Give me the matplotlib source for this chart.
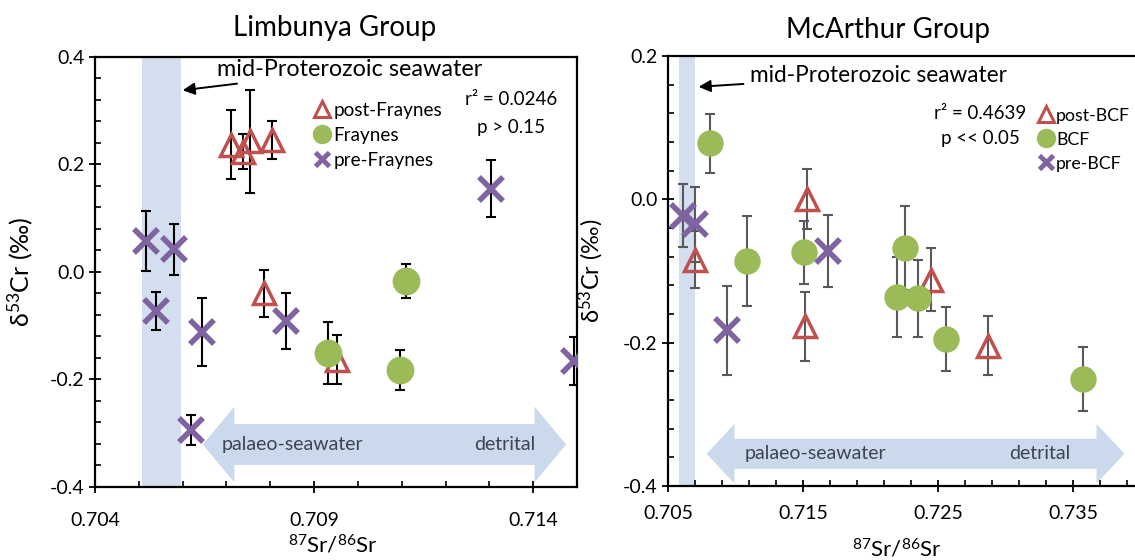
import numpy as np
import matplotlib
matplotlib.use('Agg')
import matplotlib.pyplot as plt
from matplotlib.lines import Line2D
from matplotlib.patches import Polygon
from matplotlib.ticker import FixedLocator, MultipleLocator, FormatStrFormatter

plt.rcParams['font.family'] = ['Lato', 'DejaVu Sans']
plt.rcParams['mathtext.default'] = 'regular'
plt.rcParams['axes.unicode_minus'] = False

# Limbunya Group
lim_post_x = [0.70711, 0.70738, 0.70753, 0.70805, 0.70785, 0.70952]
lim_post_y = [0.237, 0.224, 0.243, 0.246, -0.040, -0.163]
lim_post_err = [0.064, 0.032, 0.096, 0.035, 0.044, 0.045]

lim_fray_x = [0.70932, 0.71110, 0.71096]
lim_fray_y = [-0.151, -0.017, -0.183]
lim_fray_err = [0.058, 0.032, 0.037]

lim_pre_x = [0.70516, 0.70580, 0.70539, 0.70644, 0.70618, 0.70837, 0.71303, 0.71494]
lim_pre_y = [0.058, 0.042, -0.073, -0.112, -0.294, -0.091, 0.155, -0.166]
lim_pre_err = [0.056, 0.048, 0.035, 0.063, 0.028, 0.052, 0.053, 0.045]

# McArthur Group
mca_post_x = [0.70700, 0.71531, 0.71516, 0.72450, 0.72867]
mca_post_y = [-0.084, 0.000, -0.177, -0.112, -0.204]
mca_post_err = [0.040, 0.042, 0.048, 0.044, 0.041]

mca_bcf_x = [0.70813, 0.71083, 0.71510, 0.72253, 0.72195, 0.72349, 0.72555, 0.73573]
mca_bcf_y = [0.078, -0.086, -0.074, -0.068, -0.136, -0.138, -0.195, -0.251]
mca_bcf_err = [0.041, 0.063, 0.044, 0.059, 0.056, 0.054, 0.045, 0.045]

mca_pre_x = [0.70615, 0.70700, 0.70940, 0.71685]
mca_pre_y = [-0.023, -0.035, -0.183, -0.072]
mca_pre_err = [0.044, 0.052, 0.062, 0.050]

lim_xticks = [0.704, 0.709, 0.714]
mca_xticks = [0.705, 0.715, 0.725, 0.735]

RED = '#c0504d'
GREEN = '#9bbb59'
PURPLE = '#8064a2'
BAND = '#d3dfef'
ARROW = '#cbd9ec'


def big_arrow(ax, x0, x1, yc, body, head, hlen):
    # double headed block arrow in data coordinates
    pts = [(x0, yc), (x0 + hlen, yc + head), (x0 + hlen, yc + body),
           (x1 - hlen, yc + body), (x1 - hlen, yc + head), (x1, yc),
           (x1 - hlen, yc - head), (x1 - hlen, yc - body),
           (x0 + hlen, yc - body), (x0 + hlen, yc - head)]
    ax.add_patch(Polygon(pts, closed=True, facecolor=ARROW, edgecolor='none', zorder=1))


def panel(ax, post, mid, pre, ecolor, ms_c):
    for (x, y, e) in (post, mid, pre):
        ax.errorbar(x, y, yerr=e, fmt='none', ecolor=ecolor, elinewidth=1.5,
                    capsize=3.5, capthick=1.5, zorder=3)
    ax.plot(post[0], post[1], '^', ms=16, mfc='none', mec=RED, mew=2.5, ls='none', zorder=4)
    ax.plot(mid[0], mid[1], 'o', ms=ms_c, mfc=GREEN, mec=GREEN, ls='none', zorder=5)
    ax.plot(pre[0], pre[1], 'x', ms=17, mec=PURPLE, mew=4, ls='none', zorder=6)
    for s in ax.spines.values():
        s.set_linewidth(1.6)
    ax.tick_params(which='major', direction='inout', length=8, width=1.3, labelsize=14)
    ax.tick_params(which='minor', direction='in', length=4, width=1.2)
    ax.yaxis.set_major_locator(MultipleLocator(0.2))
    ax.yaxis.set_minor_locator(MultipleLocator(0.04))
    ax.yaxis.set_major_formatter(FormatStrFormatter('%.1f'))
    ax.xaxis.set_major_formatter(FormatStrFormatter('%.3f'))
    ax.set_xlabel('$^{87}$Sr/$^{86}$Sr', fontsize=16)


fig = plt.figure(figsize=(11.35, 5.6), dpi=100)
ax1 = fig.add_axes([0.0837, 0.1304, 0.4247, 0.7679])
ax2 = fig.add_axes([0.5885, 0.1321, 0.4167, 0.7679])

# ---- Limbunya
ax1.set_xlim(0.704, 0.715)
ax1.set_ylim(-0.4, 0.4)
ax1.axvspan(0.70507, 0.70597, color=BAND, lw=0, zorder=0)
big_arrow(ax1, 0.70646, 0.71475, -0.321, 0.038, 0.0705, 0.00072)
ax1.text(0.70851, -0.321, 'palaeo-seawater', ha='center', va='center', fontsize=14, color='#3d4452', zorder=2)
ax1.text(0.71334, -0.321, 'detrital', ha='center', va='center', fontsize=14, color='#3d4452', zorder=2)
panel(ax1, (lim_post_x, lim_post_y, lim_post_err), (lim_fray_x, lim_fray_y, lim_fray_err),
      (lim_pre_x, lim_pre_y, lim_pre_err), 'black', 19)
ax1.xaxis.set_major_locator(FixedLocator(lim_xticks))
ax1.xaxis.set_minor_locator(FixedLocator(np.arange(0.704, 0.7151, 0.001)))
ax1.tick_params(axis='x', which='major', pad=14)
ax1.set_ylabel('δ$^{53}$Cr (‰)', fontsize=18)
ax1.annotate('mid-Proterozoic seawater', xy=(0.70600, 0.338), xytext=(0.70679, 0.376),
             ha='left', va='center', fontsize=16.8,
             arrowprops=dict(arrowstyle='-|>', color='black', lw=1.4, shrinkA=3, shrinkB=0,
                             mutation_scale=18))
ax1.text(0.863, 0.902, 'r² = 0.0246', transform=ax1.transAxes, ha='center', va='center', fontsize=13.5)
ax1.text(0.863, 0.837, 'p > 0.15', transform=ax1.transAxes, ha='center', va='center', fontsize=13.5)
h1 = [Line2D([], [], marker='^', ms=11, mfc='none', mec=RED, mew=2.2, ls='none'),
      Line2D([], [], marker='o', ms=13, mfc=GREEN, mec=GREEN, ls='none'),
      Line2D([], [], marker='x', ms=10, mec=PURPLE, mew=3.5, ls='none')]
ax1.legend(h1, ['post-Fraynes', 'Fraynes', 'pre-Fraynes'], loc='upper left',
           bbox_to_anchor=(0.455, 0.895), frameon=False, fontsize=13.6, handlelength=0.8,
           handletextpad=0.2, labelspacing=0.42, borderpad=0, borderaxespad=0)
ax1.yaxis.set_label_coords(-0.125, 0.5)
ax1.xaxis.set_label_coords(0.494, -0.11)

# ---- McArthur
ax2.set_xlim(0.705, 0.740)
ax2.set_ylim(-0.4, 0.2)
ax2.axvspan(0.70583, 0.70701, color=BAND, lw=0, zorder=0)
big_arrow(ax2, 0.70786, 0.73878, -0.355, 0.021, 0.0415, 0.00206)
ax2.text(0.71594, -0.355, 'palaeo-seawater', ha='center', va='center', fontsize=14, color='#3d4452', zorder=2)
ax2.text(0.73253, -0.355, 'detrital', ha='center', va='center', fontsize=14, color='#3d4452', zorder=2)
panel(ax2, (mca_post_x, mca_post_y, mca_post_err), (mca_bcf_x, mca_bcf_y, mca_bcf_err),
      (mca_pre_x, mca_pre_y, mca_pre_err), '#595959', 18)
ax2.xaxis.set_major_locator(FixedLocator(mca_xticks))
ax2.xaxis.set_minor_locator(FixedLocator(np.arange(0.705, 0.7401, 0.002)))
ax2.tick_params(axis='x', which='major', pad=10)
ax2.spines['right'].set_visible(False)
ax2.set_ylabel('δ$^{53}$Cr (‰)', fontsize=17)
ax2.annotate('mid-Proterozoic seawater', xy=(0.70727, 0.157), xytext=(0.7111, 0.173),
             ha='left', va='center', fontsize=16.3,
             arrowprops=dict(arrowstyle='-|>', color='black', lw=1.4, shrinkA=3, shrinkB=0,
                             mutation_scale=18))
ax2.text(0.66, 0.867, 'r² = 0.4639', transform=ax2.transAxes, ha='center', va='center', fontsize=13.5)
ax2.text(0.66, 0.809, 'p << 0.05', transform=ax2.transAxes, ha='center', va='center', fontsize=13.5)
ax2.legend(h1, ['post-BCF', 'BCF', 'pre-BCF'], loc='upper left',
           bbox_to_anchor=(0.785, 0.88), frameon=False, fontsize=12.8, handlelength=0.8,
           handletextpad=0.15, labelspacing=0.45, borderpad=0, borderaxespad=0)
ax2.yaxis.set_label_coords(-0.13, 0.5)
ax2.xaxis.set_label_coords(0.484, -0.12)

fig.text(335 / 1135, 1 - 28 / 560, 'Limbunya Group', ha='center', va='center', fontsize=20)
fig.text(888 / 1135, 1 - 30 / 560, 'McArthur Group', ha='center', va='center', fontsize=20)

fig.savefig('out.png', dpi=100)
